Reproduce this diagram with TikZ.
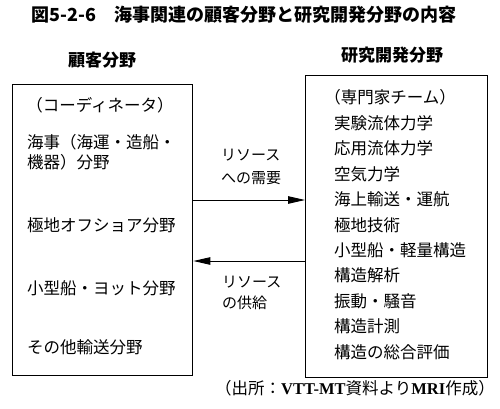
\documentclass[tikz,border=0pt]{standalone}
\usepackage{fontspec}
\setmainfont{Noto Sans CJK JP}
\newfontfamily\lserif{Liberation Serif}
\usetikzlibrary{arrows.meta}
\begin{document}
\begin{tikzpicture}[x=1pt,y=-1pt,
  box/.style={draw, line width=1.4pt, inner sep=0pt, anchor=north west},
  body/.style={anchor=west, inner sep=0pt, font=\fontsize{16.5}{18}\selectfont},
  lab/.style={anchor=west, inner sep=0pt, font=\fontsize{15}{17}\selectfont},
  head/.style={inner sep=0pt, font=\fontsize{17}{19}\selectfont\bfseries},
  flow/.style={line width=0.9pt, -{Triangle[length=17pt,width=7.5pt]}}]
\useasboundingbox[fill=white] (0,0) rectangle (500,409);
% title and headers
\node[head, font=\fontsize{18}{20}\selectfont\bfseries] (title) at (244,15) {図5-2-6　海事関連の顧客分野と研究開発分野の内容};
\node[head] (hL) at (102,60) {顧客分野};
\node[head] (hR) at (392,55) {研究開発分野};
% boxes
\node[box, minimum width=180pt, minimum height=291pt] (L) at (12,84) {};
\node[box, minimum width=182pt, minimum height=302pt] (R) at (305,75) {};
% left box contents
\node[body, anchor=center] (l0) at (100,105) {（コーディネータ）};
\node[body] (l1) at (27,142) {海事（海運・造船・};
\node[body] (l2) at (27,162) {機器）分野};
\node[body] (l3) at (27,225) {極地オフショア分野};
\node[body] (l4) at (27,288) {小型船・ヨット分野};
\node[body] (l5) at (27,347) {その他輸送分野};
% right box contents
\node[body, anchor=center] (r0) at (390,97) {（専門家チーム）};
\node[body] (r1) at (334,123) {実験流体力学};
\node[body] (r2) at (334,148.4) {応用流体力学};
\node[body] (r3) at (334,173.9) {空気力学};
\node[body] (r4) at (334,199.3) {海上輸送・運航};
\node[body] (r5) at (334,224.8) {極地技術};
\node[body] (r6) at (334,250.2) {小型船・軽量構造};
\node[body] (r7) at (334,275.7) {構造解析};
\node[body] (r8) at (334,301.1) {振動・騒音};
\node[body] (r9) at (334,326.6) {構造計測};
\node[body] (r10) at (334,352) {構造の総合評価};
% connectors
\coordinate (d) at (0,200);
\coordinate (s) at (0,261);
\draw[flow] (L.east |- d) -- (R.west |- d);
\draw[flow] (R.west |- s) -- (L.east |- s);
\node[lab] (d1) at (221,155) {リソース};
\node[lab] (d2) at (221,178) {への需要};
\node[lab] (s1) at (222,282) {リソース};
\node[lab] (s2) at (222,303) {の供給};
% source
\node[body, anchor=center] (src) at (355,388) {（出所：{\lserif\bfseries VTT-MT}資料より{\lserif\bfseries MRI}作成）};
\end{tikzpicture}
\end{document}
